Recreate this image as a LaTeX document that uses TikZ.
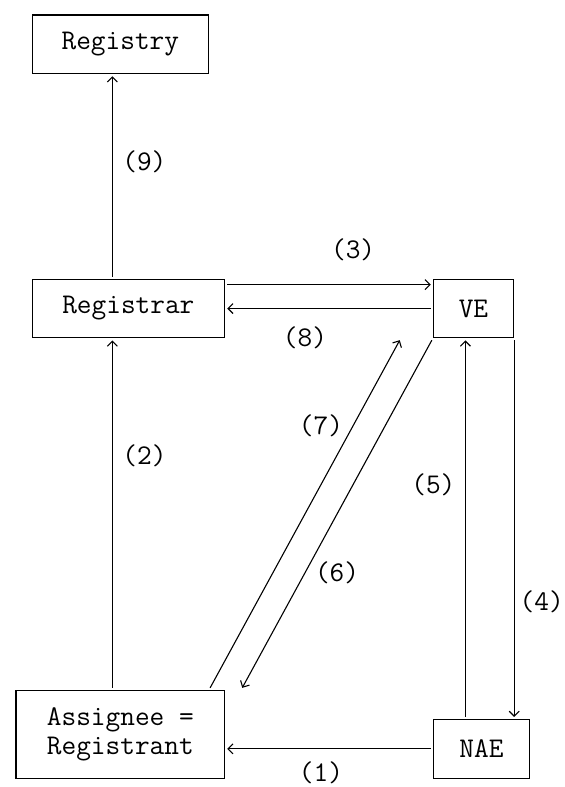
\documentclass[tikz,border=0pt]{standalone}
\usepackage{fontspec}
\usetikzlibrary{calc,arrows.meta}
\begin{document}
\begin{tikzpicture}[x=16.05pt,y=-29.35pt,
  font=\ttfamily\fontsize{28.5pt}{29.35pt}\selectfont,
  >={Straight Barb[length=5pt,width=10pt]},
  entity/.style={draw,line width=1.1pt,inner sep=0pt,minimum height=58.7pt},
  flow/.style={->,line width=1.1pt,shorten <=2pt,shorten >=2pt},
  tag/.style={inner sep=0pt}]
\useasboundingbox (-0.997,-0.511) rectangle (34.14,26.30);
\node [entity,name=registry,minimum width=176.55pt] at (6.5,1){Registry};
\node [entity,name=registrar,minimum width=192.6pt] at (7,10){Registrar};
\node [entity,name=ve,minimum width=80.25pt] at (28.5,10){VE};
\node [entity,name=assignee,minimum width=208.65pt,minimum height=88.05pt,align=center] at (6.5,24.5){Assignee =\\Registrant};
\node [entity,name=nae,minimum width=96.3pt] at (29,25){NAE};
\draw[flow] (registrar.north -| 6,0)--(registry.south -| 6,0);
\draw[flow] ([yshift=-6pt]registrar.north east)--([yshift=-6pt]ve.north west);
\draw[flow] (ve.west)--(registrar.east);
\draw[flow] (assignee.north -| 6,0)--(registrar.south -| 6,0);
\draw[flow] ($(assignee.north east)+(-1,0)$)--($(ve.south west)+(-2,0)$);
\draw[flow] (ve.south west)--($(assignee.north east)+(1,0)$);
\draw[flow] (ve.south east)--(nae.north -| ve.south east);
\draw[flow] (nae.north -| 28,0)--(ve.south -| 28,0);
\draw[flow] (nae.west)--(nae.west -| assignee.east);
\node [tag,name=l9] at (8,5){(9)};
\node [tag,name=l3] at (21,8){(3)};
\node [tag,name=l8] at (18,11){(8)};
\node [tag,name=l7] at (19,14){(7)};
\node [tag,name=l2] at (8,15){(2)};
\node [tag,name=l5] at (26,16){(5)};
\node [tag,name=l6] at (20,19){(6)};
\node [tag,name=l4] at (32.75,20){(4)};
\node [tag,name=l1] at (19,25.8){(1)};
\end{tikzpicture}
\end{document}
